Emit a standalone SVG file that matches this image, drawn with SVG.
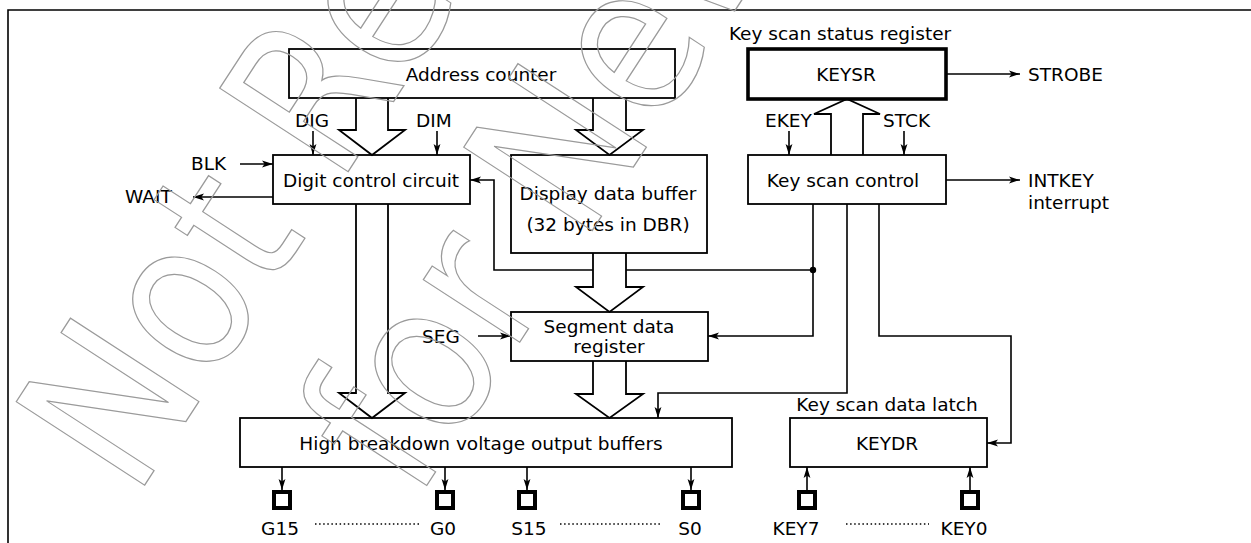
<svg xmlns="http://www.w3.org/2000/svg" width="1251" height="543" viewBox="0 0 1251 543">
<defs>
<style>
.box{fill:none;stroke:#000;stroke-width:1.8}
.thick{fill:none;stroke:#000;stroke-width:3.6}
.ln{fill:none;stroke:#000;stroke-width:1.6}
.bus{fill:#fff;stroke:#000;stroke-width:1.8;stroke-linejoin:miter}
.pin{fill:none;stroke:#000;stroke-width:4}
.dot{fill:none;stroke:#000;stroke-width:1.5;stroke-dasharray:1.5 2.6}
text{font-family:"DejaVu Sans","Liberation Sans",sans-serif;font-size:18.5px;fill:#000}
.c{text-anchor:middle}
.wm{font-family:"DejaVu Sans",sans-serif;font-size:210px;fill:none;stroke:#9a9a9a;stroke-width:1.3}
</style>
<marker id="a" markerUnits="userSpaceOnUse" markerWidth="12" markerHeight="8" refX="11" refY="4" orient="auto" viewBox="0 0 12 8">
<path d="M0,0.6 L11,4 L0,7.4 L2.6,4 z" fill="#000"/>
</marker>
</defs>
<rect width="1251" height="543" fill="#fff"/>
<path class="ln" d="M8,543 V10 H1251" stroke-width="2"/>

<g id="connectors">
<path class="ln" marker-end="url(#a)" d="M313,131 V155"/>
<path class="ln" marker-end="url(#a)" d="M437,131 V155"/>
<path class="ln" marker-end="url(#a)" d="M240,164 H273"/>
<path class="ln" marker-end="url(#a)" d="M273,197 H193"/>
<path class="ln" marker-end="url(#a)" d="M789,131 V155"/>
<path class="ln" marker-end="url(#a)" d="M904,131 V155"/>
<path class="ln" marker-end="url(#a)" d="M946,74 H1020"/>
<path class="ln" marker-end="url(#a)" d="M946,180 H1020"/>
<path class="ln" marker-end="url(#a)" d="M813,204 V336 H708"/>
<path class="ln" marker-end="url(#a)" d="M813,270 H494 V180 H470"/>
<circle cx="813" cy="270" r="3.2" fill="#000"/>
<path class="ln" marker-end="url(#a)" d="M847,204 V393 H658 V418"/>
<path class="ln" marker-end="url(#a)" d="M879,204 V336 H1011 V443 H987"/>
<path class="ln" marker-end="url(#a)" d="M478,336 H511"/>
<polyline class="bus" points="356,98 356,130 339,130 372,155 405,130 388,130 388,98"/>
<polyline class="bus" points="593,98 593,130 576,130 609.5,155 643,130 626,130 626,98"/>
<polyline class="bus" points="593,253 593,287 576,287 609.5,312 643,287 626,287 626,253"/>
<polyline class="bus" points="593,361 593,394 576,394 609.5,418 643,394 626,394 626,361"/>
<polyline class="bus" points="356,204 356,393 339,393 372,418 405,393 388,393 388,204"/>
<polyline class="bus" points="831,155 831,114 814,114 847,99 880,114 863,114 863,155"/>
<path class="ln" marker-end="url(#a)" d="M282,467 V490"/>
<path class="ln" marker-end="url(#a)" d="M445,467 V490"/>
<path class="ln" marker-end="url(#a)" d="M527,467 V490"/>
<path class="ln" marker-end="url(#a)" d="M691,467 V490"/>
<path class="ln" marker-end="url(#a)" d="M807,490 V467"/>
<path class="ln" marker-end="url(#a)" d="M970,490 V467"/>
</g>

<g id="address-counter">
<rect class="box" x="289" y="49" width="386" height="49"/>
<text class="c" x="481" y="81">Address counter</text>
</g>
<g id="digit-control">
<rect class="box" x="273" y="155" width="197" height="49"/>
<text class="c" x="371" y="187">Digit control circuit</text>
<text x="295" y="127">DIG</text>
<text x="416" y="127">DIM</text>
<text x="191" y="170">BLK</text>
<text x="125" y="203">WAIT</text>
</g>
<g id="display-buffer">
<rect class="box" x="511" y="155" width="196" height="98"/>
<text class="c" x="608" y="200">Display data buffer</text>
<text class="c" x="608" y="231">(32 bytes in DBR)</text>
</g>
<g id="keysr">
<text class="c" x="840" y="40">Key scan status register</text>
<rect class="thick" x="748" y="49" width="198" height="50"/>
<text class="c" x="846" y="81">KEYSR</text>
<text x="1028" y="81">STROBE</text>
</g>
<g id="key-scan-control">
<rect class="box" x="748" y="155" width="198" height="49"/>
<text class="c" x="843" y="187">Key scan control</text>
<text x="765" y="127">EKEY</text>
<text x="883" y="127">STCK</text>
<text x="1028" y="187">INTKEY</text>
<text x="1028" y="209">interrupt</text>
</g>
<g id="segment-register">
<rect class="box" x="511" y="312" width="197" height="49"/>
<text class="c" x="609" y="333">Segment data</text>
<text class="c" x="609" y="353">register</text>
<text x="422" y="343">SEG</text>
</g>
<g id="output-buffers">
<rect class="box" x="240" y="418" width="492" height="49"/>
<text class="c" x="481" y="450">High breakdown voltage output buffers</text>
</g>
<g id="keydr">
<text class="c" x="887" y="411">Key scan data latch</text>
<rect class="box" x="790" y="418" width="197" height="49"/>
<text class="c" x="887" y="450">KEYDR</text>
</g>
<g id="pins">
<rect class="pin" x="274" y="492" width="16" height="16"/>
<rect class="pin" x="437" y="492" width="16" height="16"/>
<rect class="pin" x="519" y="492" width="16" height="16"/>
<rect class="pin" x="683" y="492" width="16" height="16"/>
<rect class="pin" x="799" y="492" width="16" height="16"/>
<rect class="pin" x="962" y="492" width="16" height="16"/>
<text class="c" x="280" y="535">G15</text>
<text class="c" x="443" y="535">G0</text>
<text class="c" x="529" y="535">S15</text>
<text class="c" x="690" y="535">S0</text>
<text class="c" x="796" y="535">KEY7</text>
<text class="c" x="964" y="535">KEY0</text>
<path class="dot" d="M315,524 H420 M560,524 H662 M846,524 H929"/>
</g>
<g id="watermark">
<text class="wm" transform="translate(135,500) rotate(-57) scale(0.86,1)">Not Recommended</text>
<text class="wm" transform="translate(416,502) rotate(-57) scale(0.86,1)">for New Design</text>
</g>
</svg>
